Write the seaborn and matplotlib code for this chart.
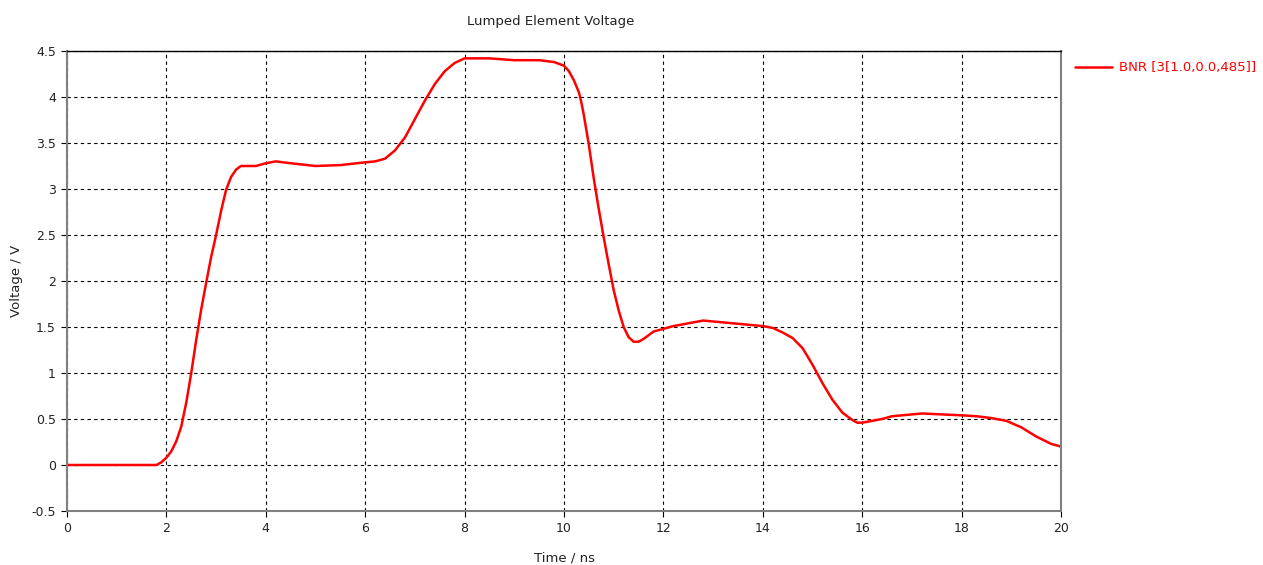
import matplotlib
matplotlib.use("Agg")
import matplotlib.pyplot as plt
import seaborn as sns
import pandas as pd

sns.set_theme(style="white")
plt.rcParams['font.family'] = ['DejaVu Sans']

time_ns = [0.0, 0.5, 1.0, 1.5, 1.8, 1.9, 2.0, 2.1, 2.2, 2.3, 2.4, 2.5, 2.6, 2.7, 2.8, 2.9, 3.0,
           3.1, 3.2, 3.3, 3.4, 3.5, 3.6, 3.8, 4.0, 4.2, 4.5, 5.0, 5.5, 6.0, 6.2, 6.4, 6.6, 6.8,
           7.0, 7.2, 7.4, 7.6, 7.8, 8.0, 8.5, 9.0, 9.5, 9.8, 10.0, 10.1, 10.2, 10.3, 10.35, 10.4,
           10.5, 10.6, 10.7, 10.8, 10.9, 11.0, 11.1, 11.2, 11.3, 11.4, 11.5, 11.6, 11.7, 11.8,
           12.0, 12.2, 12.4, 12.6, 12.8, 13.0, 13.2, 13.6, 14.0, 14.2, 14.4, 14.6, 14.8, 15.0,
           15.2, 15.4, 15.6, 15.8, 15.9, 16.0, 16.2, 16.4, 16.6, 17.0, 17.2, 17.6, 18.0, 18.3,
           18.6, 18.9, 19.2, 19.5, 19.8, 20.0]
voltage_v = [0.0, 0.0, 0.0, 0.0, 0.0, 0.03, 0.08, 0.15, 0.26, 0.42, 0.68, 1.00, 1.36, 1.69, 1.98,
             2.26, 2.50, 2.76, 2.99, 3.13, 3.21, 3.25, 3.25, 3.25, 3.28, 3.30, 3.28, 3.25, 3.26,
             3.29, 3.30, 3.33, 3.42, 3.56, 3.76, 3.96, 4.14, 4.28, 4.37, 4.42, 4.42, 4.40, 4.40,
             4.38, 4.34, 4.28, 4.18, 4.05, 3.94, 3.80, 3.48, 3.11, 2.78, 2.47, 2.18, 1.90, 1.68,
             1.50, 1.39, 1.34, 1.34, 1.37, 1.41, 1.45, 1.48, 1.51, 1.53, 1.55, 1.57, 1.56, 1.55,
             1.53, 1.51, 1.49, 1.44, 1.38, 1.27, 1.09, 0.89, 0.71, 0.57, 0.49, 0.46, 0.46, 0.48,
             0.50, 0.53, 0.55, 0.56, 0.55, 0.54, 0.53, 0.51, 0.48, 0.41, 0.31, 0.23, 0.20]
series_label = "BNR [3[1.0,0.0,485]]"
x_ticks = [0, 2, 4, 6, 8, 10, 12, 14, 16, 18, 20]
y_ticks = [-0.5, 0, 0.5, 1, 1.5, 2, 2.5, 3, 3.5, 4, 4.5]
y_tick_labels = ["-0.5", "0", "0.5", "1", "1.5", "2", "2.5", "3", "3.5", "4", "4.5"]

df = pd.DataFrame({"t": time_ns, "v": voltage_v})

W, H = 1263, 565
fig = plt.figure(figsize=(W / 100, H / 100), dpi=100)
ax = fig.add_axes([67 / W, 1 - 511 / H, (1061 - 67) / W, (511 - 51) / H])

sns.lineplot(data=df, x="t", y="v", ax=ax, color="#ff0000", linewidth=1.8, label=series_label,
             legend=False)

ax.set_xlim(0, 20)
ax.set_ylim(-0.5, 4.5)
ax.set_xticks(x_ticks)
ax.set_xticklabels([str(v) for v in x_ticks])
ax.set_yticks(y_ticks)
ax.set_yticklabels(y_tick_labels)
ax.grid(True, color="black", linestyle=(0, (3, 3)), linewidth=0.8)
ax.tick_params(axis="both", direction="out", length=4, width=0.8, color="black",
               labelsize=9, labelcolor="#222222", pad=4, left=True, bottom=True)
for side in ["left", "bottom", "right"]:
    ax.spines[side].set_color("#808080")
    ax.spines[side].set_linewidth(1.5)
ax.spines["top"].set_color("black")
ax.spines["top"].set_linewidth(1.0)

ax.set_xlabel("Time / ns", fontsize=9.5, color="#222222", labelpad=12)
ax.set_ylabel("Voltage / V", fontsize=9.5, color="#222222", labelpad=6)
fig.text(551 / W, 1 - 22 / H, "Lumped Element Voltage", ha="center", va="center",
         fontsize=9.5, color="#222222")

leg = ax.legend(loc="upper left", bbox_to_anchor=(1070 / W, 1 - 56 / H),
                bbox_transform=fig.transFigure, frameon=False, fontsize=9.5,
                handlelength=2.8, handletextpad=0.5, borderaxespad=0)
for txt in leg.get_texts():
    txt.set_color("#ff0000")

fig.savefig("out.png", dpi=100)
